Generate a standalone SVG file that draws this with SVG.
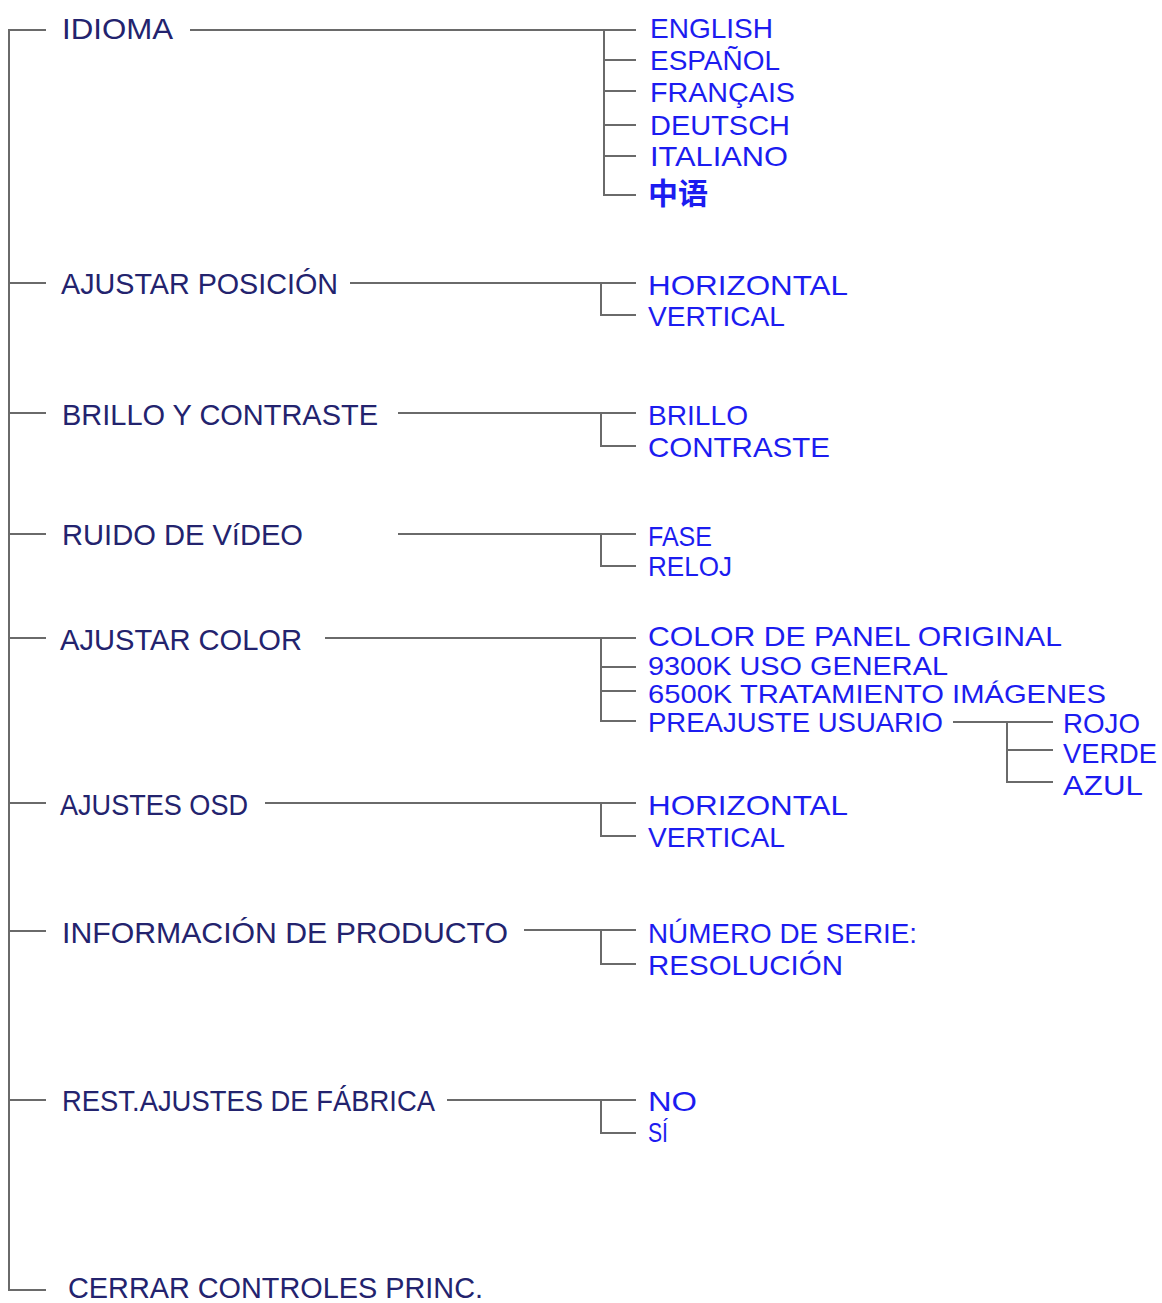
<svg xmlns="http://www.w3.org/2000/svg" width="1162" height="1303" viewBox="0 0 1162 1303">
<style>
  .ln { fill: none; stroke: #6a6a6a; stroke-width: 2; }
  .main { font-family: "Liberation Sans", "DejaVu Sans", sans-serif; font-size: 29px; fill: #23236e; }
  .sub { font-family: "Liberation Sans", "DejaVu Sans", sans-serif; font-size: 28px; fill: #1c1cf0; }
  .tight { font-size: 26px; }
  .cjk { font-family: "Noto Sans CJK SC", sans-serif; font-size: 30px; font-weight: bold; fill: #1c1cf0; }
</style>
<rect width="1162" height="1303" fill="#ffffff"/>
<g id="connectors">
  <path class="ln" d="M46,30 H9 V1290 H46"/>
  <path class="ln" d="M9,283 H46 M9,413 H46 M9,534 H46 M9,638 H46 M9,803 H46 M9,931 H46 M9,1100 H46"/>
  <path class="ln" d="M190,30 H636 M604,30 V195 H636 M604,60 H636 M604,91 H636 M604,125 H636 M604,156 H636"/>
  <path class="ln" d="M350,283 H636 M601,283 V315 H636"/>
  <path class="ln" d="M398,413 H636 M601,413 V446 H636"/>
  <path class="ln" d="M398,534 H636 M601,534 V566 H636"/>
  <path class="ln" d="M325,638 H636 M601,638 V721 H636 M601,667 H636 M601,691 H636"/>
  <path class="ln" d="M953,722 H1053 M1007,722 V782 H1053 M1007,750 H1053"/>
  <path class="ln" d="M265,803 H636 M601,803 V836 H636"/>
  <path class="ln" d="M524,930 H636 M601,930 V964 H636"/>
  <path class="ln" d="M447,1100 H636 M601,1100 V1133 H636"/>
</g>
<g id="idioma">
  <text class="main" x="62" y="39" textLength="111" lengthAdjust="spacingAndGlyphs">IDIOMA</text>
</g>
<g id="idioma-options">
  <text class="sub" x="650" y="38" textLength="123" lengthAdjust="spacingAndGlyphs">ENGLISH</text>
  <text class="sub" x="650" y="70" textLength="130" lengthAdjust="spacingAndGlyphs">ESPAÑOL</text>
  <text class="sub" x="650" y="102" textLength="145" lengthAdjust="spacingAndGlyphs">FRANÇAIS</text>
  <text class="sub" x="650" y="135" textLength="140" lengthAdjust="spacingAndGlyphs">DEUTSCH</text>
  <text class="sub" x="650" y="166" textLength="138" lengthAdjust="spacingAndGlyphs">ITALIANO</text>
  <text class="cjk" x="648" y="204" textLength="60" lengthAdjust="spacingAndGlyphs">中语</text>
</g>
<g id="ajustar-posicion">
  <text class="main" x="61" y="294" textLength="277" lengthAdjust="spacingAndGlyphs">AJUSTAR POSICIÓN</text>
</g>
<g id="posicion-options">
  <text class="sub" x="648" y="295" textLength="200" lengthAdjust="spacingAndGlyphs">HORIZONTAL</text>
  <text class="sub" x="648" y="326" textLength="137" lengthAdjust="spacingAndGlyphs">VERTICAL</text>
</g>
<g id="brillo-contraste">
  <text class="main" x="62" y="425" textLength="316" lengthAdjust="spacingAndGlyphs">BRILLO Y CONTRASTE</text>
</g>
<g id="brillo-options">
  <text class="sub" x="648" y="425" textLength="100" lengthAdjust="spacingAndGlyphs">BRILLO</text>
  <text class="sub" x="648" y="457" textLength="182" lengthAdjust="spacingAndGlyphs">CONTRASTE</text>
</g>
<g id="ruido-video">
  <text class="main" x="62" y="545" textLength="241" lengthAdjust="spacingAndGlyphs">RUIDO DE VíDEO</text>
</g>
<g id="ruido-options">
  <text class="sub" x="648" y="546" textLength="64" lengthAdjust="spacingAndGlyphs">FASE</text>
  <text class="sub" x="648" y="576" textLength="84" lengthAdjust="spacingAndGlyphs">RELOJ</text>
</g>
<g id="ajustar-color">
  <text class="main" x="60" y="650" textLength="242" lengthAdjust="spacingAndGlyphs">AJUSTAR COLOR</text>
</g>
<g id="color-options">
  <text class="sub" x="648" y="646" textLength="414" lengthAdjust="spacingAndGlyphs">COLOR DE PANEL ORIGINAL</text>
  <text class="sub tight" x="648" y="675" textLength="300" lengthAdjust="spacingAndGlyphs">9300K USO GENERAL</text>
  <text class="sub tight" x="648" y="703" textLength="458" lengthAdjust="spacingAndGlyphs">6500K TRATAMIENTO IMÁGENES</text>
  <text class="sub" x="648" y="732" textLength="295" lengthAdjust="spacingAndGlyphs">PREAJUSTE USUARIO</text>
</g>
<g id="usuario-options">
  <text class="sub" x="1063" y="733" textLength="77" lengthAdjust="spacingAndGlyphs">ROJO</text>
  <text class="sub" x="1063" y="763" textLength="94" lengthAdjust="spacingAndGlyphs">VERDE</text>
  <text class="sub" x="1063" y="795" textLength="80" lengthAdjust="spacingAndGlyphs">AZUL</text>
</g>
<g id="ajustes-osd">
  <text class="main" x="60" y="815" textLength="188" lengthAdjust="spacingAndGlyphs">AJUSTES OSD</text>
</g>
<g id="osd-options">
  <text class="sub" x="648" y="815" textLength="200" lengthAdjust="spacingAndGlyphs">HORIZONTAL</text>
  <text class="sub" x="648" y="847" textLength="137" lengthAdjust="spacingAndGlyphs">VERTICAL</text>
</g>
<g id="informacion-producto">
  <text class="main" x="62" y="943" textLength="446" lengthAdjust="spacingAndGlyphs">INFORMACIÓN DE PRODUCTO</text>
</g>
<g id="informacion-options">
  <text class="sub" x="648" y="943" textLength="269" lengthAdjust="spacingAndGlyphs">NÚMERO DE SERIE:</text>
  <text class="sub" x="648" y="975" textLength="195" lengthAdjust="spacingAndGlyphs">RESOLUCIÓN</text>
</g>
<g id="rest-ajustes">
  <text class="main" x="62" y="1111" textLength="373" lengthAdjust="spacingAndGlyphs">REST.AJUSTES DE FÁBRICA</text>
</g>
<g id="rest-options">
  <text class="sub" x="648" y="1111" textLength="49" lengthAdjust="spacingAndGlyphs">NO</text>
  <text class="sub" x="648" y="1142" textLength="20" lengthAdjust="spacingAndGlyphs">SÍ</text>
</g>
<g id="cerrar">
  <text class="main" x="68" y="1298" textLength="415" lengthAdjust="spacingAndGlyphs">CERRAR CONTROLES PRINC.</text>
</g>
</svg>
